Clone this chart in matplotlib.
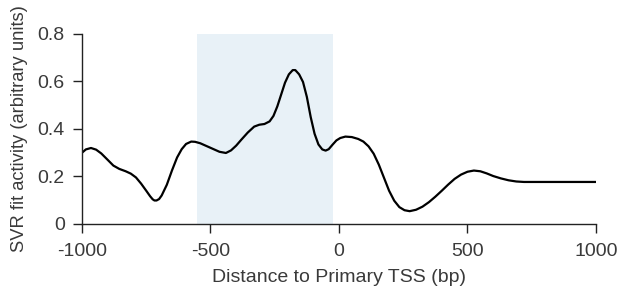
import matplotlib
matplotlib.use("Agg")
import matplotlib.pyplot as plt

plt.rcParams['font.family'] = ['Liberation Sans', 'DejaVu Sans']
plt.rcParams['axes.unicode_minus'] = False

# Data
distance = [-1000, -985, -965, -945, -925, -900, -878, -855, -830, -810, -790, -770,
            -750, -735, -725, -718, -710, -700, -690, -670, -650, -630, -612, -595, -575, -560,
            -540, -515, -490, -465, -440, -420, -400, -380, -355, -330, -310, -290,
            -270, -255, -240, -225, -210, -195, -180, -170, -155, -140, -125, -110,
            -95, -80, -65, -52, -40, -25, -10, 5, 25, 50, 75, 95, 115, 135, 155, 175,
            195, 215, 235, 255, 275, 300, 325, 350, 375, 400, 425, 450, 475, 500, 525,
            550, 575, 600, 630, 660, 690, 720, 800, 900, 1000]
activity = [0.300, 0.314, 0.320, 0.313, 0.297, 0.270, 0.246, 0.232, 0.222, 0.212, 0.196, 0.170,
            0.140, 0.117, 0.104, 0.099, 0.099, 0.105, 0.120, 0.165, 0.225, 0.280, 0.315, 0.337, 0.347, 0.346,
            0.340, 0.328, 0.316, 0.304, 0.299, 0.310, 0.330, 0.355, 0.385, 0.410, 0.418, 0.421,
            0.432, 0.455, 0.495, 0.545, 0.595, 0.630, 0.648, 0.648, 0.630, 0.598, 0.535, 0.450,
            0.380, 0.335, 0.314, 0.309, 0.315, 0.334, 0.352, 0.362, 0.368, 0.366, 0.358, 0.347,
            0.327, 0.296, 0.250, 0.195, 0.140, 0.098, 0.071, 0.058, 0.054, 0.060, 0.073, 0.092,
            0.115, 0.140, 0.166, 0.190, 0.208, 0.220, 0.225, 0.222, 0.213, 0.202, 0.192, 0.184,
            0.179, 0.177, 0.177, 0.177, 0.177]
shade_start, shade_end = -553, -24
x_ticks = [-1000, -500, 0, 500, 1000]
y_ticks = [0, 0.2, 0.4, 0.6, 0.8]
y_tick_labels = ['0', '0.2', '0.4', '0.6', '0.8']

text_color = '#3a3a3a'
fs = 14
fig = plt.figure(figsize=(6.17, 2.93), dpi=100)
ax = fig.add_axes([0.1329, 0.2355, 0.833, 0.6485])

ax.axvspan(shade_start, shade_end, ymin=0, ymax=1, color='#e8f1f7', lw=0, zorder=0)
ax.plot(distance, activity, color='black', lw=1.6, zorder=2, solid_capstyle='round',
        solid_joinstyle='round')

ax.set_xlim(-1000, 1000)
ax.set_ylim(0, 0.8)
ax.set_xticks(x_ticks)
ax.set_xticklabels([str(t) for t in x_ticks])
ax.set_yticks(y_ticks)
ax.set_yticklabels(y_tick_labels)

for s in ['top', 'right']:
    ax.spines[s].set_visible(False)
for s in ['left', 'bottom']:
    ax.spines[s].set_linewidth(1.0)
    ax.spines[s].set_color('#222222')

ax.tick_params(axis='both', direction='out', length=6.5, width=1.0, color='#222222',
               labelsize=fs, labelcolor=text_color)
ax.tick_params(axis='x', pad=7)
ax.tick_params(axis='y', pad=6)

ax.set_xlabel('Distance to Primary TSS (bp)', fontsize=fs, color=text_color, labelpad=7)
ax.set_ylabel('SVR fit activity (arbitrary units)', fontsize=13.2, color=text_color, labelpad=7)

fig.savefig('out.png', dpi=100)
